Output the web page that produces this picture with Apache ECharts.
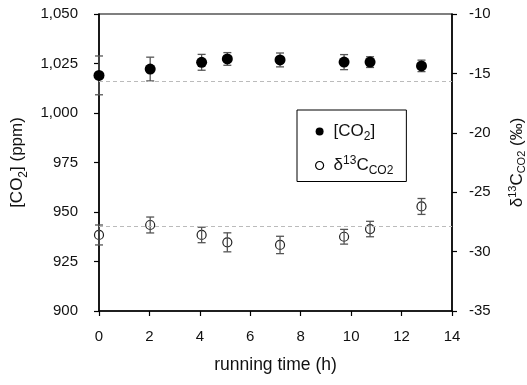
<!DOCTYPE html>
<html>
<head>
<meta charset="utf-8">
<script src="https://cdn.jsdelivr.net/npm/echarts@6/dist/echarts.min.js"></script>
<style>
  html, body { margin: 0; padding: 0; background: #fff; }
  #chart { width: 527px; height: 385px; }
</style>
</head>
<body>
<div id="chart"></div>
<script>
// running time (h)
const timeH = [0, 2.03, 4.07, 5.09, 7.18, 9.72, 10.75, 12.79];
// [CO2] ppm, left axis
const co2Ppm = [1019.0, 1022.2, 1025.6, 1027.3, 1026.8, 1025.7, 1025.7, 1023.8];
const co2Err = [9.8, 6.0, 4.0, 3.2, 3.5, 3.8, 2.7, 2.9];
// d13C-CO2 permil, right axis
const d13c = [-28.6, -27.76, -28.6, -29.22, -29.44, -28.75, -28.1, -26.2];
const d13cErr = [0.84, 0.67, 0.65, 0.8, 0.73, 0.62, 0.65, 0.67];
// dashed reference lines
const co2Ref = 1016;
const d13cRef = -27.85;

const font = 'Liberation Sans, Arial, sans-serif';
function mkRich(big, small, lh) {
  return {
    a: { fontSize: big, fontFamily: font, color: '#111', lineHeight: lh },
    sub: { fontSize: small, fontFamily: font, color: '#111', lineHeight: lh, verticalAlign: 'bottom' },
    sup: { fontSize: small, fontFamily: font, color: '#111', lineHeight: lh, verticalAlign: 'top' }
  };
}

function errRender(params, api) {
  const x = api.value(0), y = api.value(1), e = api.value(2);
  const top = api.coord([x, y + e]);
  const bot = api.coord([x, y - e]);
  const w = 4;
  const st = { stroke: '#555', lineWidth: 1.3 };
  return {
    type: 'group',
    children: [
      { type: 'line', shape: { x1: top[0], y1: top[1], x2: bot[0], y2: bot[1] }, style: st },
      { type: 'line', shape: { x1: top[0] - w, y1: top[1], x2: top[0] + w, y2: top[1] }, style: st },
      { type: 'line', shape: { x1: bot[0] - w, y1: bot[1], x2: bot[0] + w, y2: bot[1] }, style: st }
    ]
  };
}

const myChart = echarts.init(document.getElementById('chart'));
myChart.setOption({
  animation: false,
  textStyle: { fontFamily: font },
  grid: {
    left: 99, right: 75, top: 14, bottom: 74,
    outerBoundsMode: 'none',
    show: true, borderColor: '#000', borderWidth: 1.2
  },
  legend: {
    orient: 'vertical',
    left: 297, top: 110,
    padding: [13, 13, 5, 18],
    itemGap: 12,
    itemWidth: 8, itemHeight: 8,
    borderColor: '#000', borderWidth: 1,
    data: [
      { name: 'co2', icon: 'circle', itemStyle: { color: '#000' } },
      { name: 'd13c', icon: 'circle', itemStyle: { color: '#fff', borderColor: '#000', borderWidth: 1.2 } }
    ],
    formatter: function (n) {
      return n === 'co2' ? '{a|[CO}{sub|2}{a|]}' : '{a|δ}{sup|13}{a|C}{sub|CO2}';
    },
    textStyle: { rich: mkRich(17, 12, 22), padding: [0, 0, 0, 5] }
  },
  xAxis: {
    type: 'value', min: 0, max: 14, interval: 2,
    name: 'running time (h)', nameLocation: 'middle', nameGap: 45,
    nameTextStyle: { fontSize: 17.5, color: '#111', fontFamily: font },
    axisLine: { show: true, lineStyle: { color: '#000', width: 1.5 } },
    axisTick: { show: true, inside: false, length: 5, lineStyle: { color: '#000', width: 1.2 } },
    axisLabel: { fontSize: 15, color: '#111', margin: 18, fontFamily: font },
    splitLine: { show: false }
  },
  yAxis: [
    {
      type: 'value', min: 900, max: 1050, interval: 25, position: 'left',
      name: '{a|[CO}{sub|2}{a|] (ppm)}', nameLocation: 'middle', nameGap: 69, nameRotate: 90,
      nameTextStyle: { rich: mkRich(17, 12, 24) },
      axisLine: { show: true, lineStyle: { color: '#000', width: 1.5 } },
      axisTick: { show: true, length: 5, lineStyle: { color: '#000', width: 1.2 } },
      axisLabel: {
        fontSize: 15, color: '#111', margin: 21, fontFamily: font,
        formatter: v => v.toLocaleString('en-US')
      },
      splitLine: { show: false }
    },
    {
      type: 'value', min: -35, max: -10, interval: 5, position: 'right',
      name: '{a|δ}{sup|13}{a|C}{sub|CO2}{a| (‰)}', nameLocation: 'middle', nameGap: 55, nameRotate: 90,
      nameTextStyle: { rich: mkRich(17, 11, 20) },
      axisLine: { show: true, lineStyle: { color: '#000', width: 1.5 } },
      axisTick: { show: true, length: 5, lineStyle: { color: '#000', width: 1.2 } },
      axisLabel: { fontSize: 15, color: '#111', margin: 17, fontFamily: font },
      splitLine: { show: false }
    }
  ],
  series: [
    {
      name: 'co2', type: 'custom', yAxisIndex: 0, clip: false, z: 2,
      renderItem: errRender,
      data: timeH.map((t, i) => [t, co2Ppm[i], co2Err[i]])
    },
    {
      name: 'co2', type: 'scatter', yAxisIndex: 0, symbol: 'circle', symbolSize: 11, z: 3,
      itemStyle: { color: '#000', opacity: 1 },
      data: timeH.map((t, i) => [t, co2Ppm[i]]),
      markLine: {
        silent: true, symbol: 'none', label: { show: false },
        lineStyle: { color: '#bbb', type: [4, 3], width: 1.2 },
        data: [{ yAxis: co2Ref }]
      }
    },
    {
      name: 'd13c', type: 'scatter', yAxisIndex: 1, symbol: 'circle', symbolSize: 9, z: 3,
      itemStyle: { color: 'transparent', borderColor: '#222', borderWidth: 1.2, opacity: 1 },
      data: timeH.map((t, i) => [t, d13c[i]]),
      markLine: {
        silent: true, symbol: 'none', label: { show: false },
        lineStyle: { color: '#bbb', type: [4, 3], width: 1.2 },
        data: [{ yAxis: d13cRef }]
      }
    },
    {
      name: 'd13c', type: 'custom', yAxisIndex: 1, clip: false, z: 4,
      renderItem: errRender,
      data: timeH.map((t, i) => [t, d13c[i], d13cErr[i]])
    }
  ]
});
</script>
</body>
</html>
